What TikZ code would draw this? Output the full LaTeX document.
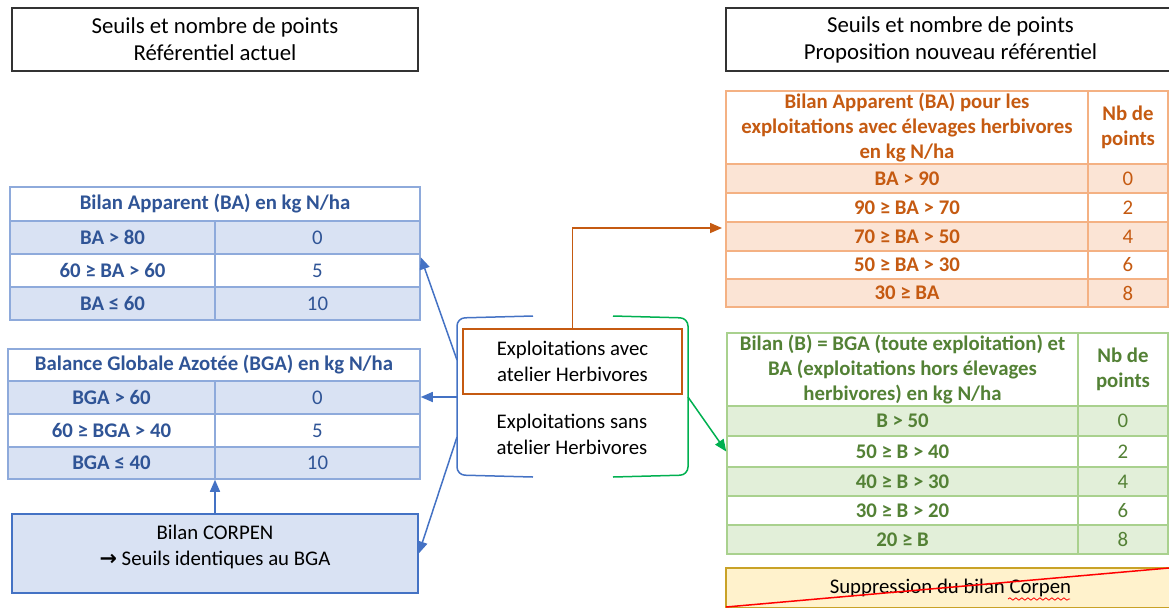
\documentclass[tikz,border=0pt]{standalone}
\usepackage{fontspec}
\setmainfont{Carlito}
\newfontfamily\symbfont{DejaVu Sans}
\usetikzlibrary{arrows.meta,decorations.pathmorphing}

\definecolor{bleutrait}{HTML}{8EAADB}
\definecolor{bleufond}{HTML}{D9E2F3}
\definecolor{bleutexte}{HTML}{2F5496}
\definecolor{bleufleche}{HTML}{4472C4}
\definecolor{orangetrait}{HTML}{F4B183}
\definecolor{orangefond}{HTML}{FBE4D5}
\definecolor{orangetexte}{HTML}{C55A11}
\definecolor{verttrait}{HTML}{A9D18E}
\definecolor{vertfond}{HTML}{E2EFD9}
\definecolor{verttexte}{HTML}{538135}
\definecolor{vertfleche}{HTML}{00B050}
\definecolor{jaunefond}{HTML}{FFF2CC}
\definecolor{jaunetrait}{HTML}{C9A227}

\tikzset{
  boite/.style n args={4}{inner sep=0pt,
    minimum width={(#3-#1)*0.5pt}, minimum height={(#4-#2)*0.5pt},
    at={({(#1+#3)/2},{(#2+#4)/2})}},
  cellule/.style={line width=0.75pt, align=center,
    font=\fontsize{10.4}{12.3}\selectfont},
  cellgras/.style={font=\fontsize{10.4}{12.3}\selectfont\bfseries},
  bleucell/.style={cellule, draw=bleutrait, text=bleutexte},
  orangecell/.style={cellule, draw=orangetrait, text=orangetexte},
  vertcell/.style={cellule, draw=verttrait, text=verttexte},
  titre/.style={draw=black!80, line width=0.6pt, align=center,
    font=\fontsize{11.4}{13.5}\selectfont},
  texte/.style={align=center, font=\fontsize{10.4}{13}\selectfont},
  fleche/.style={line width=0.75pt, -{Triangle[length=6pt,width=5pt]}},
  crochet/.style={line width=0.75pt, rounded corners=4pt},
}

\begin{document}
\begin{tikzpicture}[x=0.5pt,y=-0.5pt]
\useasboundingbox (0,0) rectangle (1169,607);
\clip (0,0) rectangle (1169,607);

% The titles
\node[titre, boite={12}{8}{418}{71}] (titreactuel)
  {Seuils et nombre de points\\Référentiel actuel};
\node[titre, boite={726}{8}{1175}{71}] (titrenouveau)
  {Seuils et nombre de points\\Proposition nouveau référentiel};

% Referentiel actuel: BA
\node[bleucell, cellgras, fill=white, boite={10}{187}{420}{221}] (baentete)
  {Bilan Apparent (BA) en kg N/ha};
\foreach \haut/\bas/\seuil/\pts/\fond [count=\i] in
  {221/254/{BA > 80}/0/bleufond, 254/287/{60 ≥ BA > 60}/5/white, 287/320/{BA ≤ 60}/10/bleufond}
{
  \node[bleucell, cellgras, fill=\fond, boite={10}{\haut}{215}{\bas}] (baseuil\i) {\seuil};
  \node[bleucell, fill=\fond, boite={215}{\haut}{420}{\bas}] (bapts\i) {\pts};
}

% Referentiel actuel: BGA
\node[bleucell, cellgras, fill=white, boite={8}{349}{420}{381}] (bgaentete)
  {Balance Globale Azotée (BGA) en kg N/ha};
\foreach \haut/\bas/\seuil/\pts/\fond [count=\i] in
  {381/414/{BGA > 60}/0/bleufond, 414/447/{60 ≥ BGA > 40}/5/white, 447/479/{BGA ≤ 40}/10/bleufond}
{
  \node[bleucell, cellgras, fill=\fond, boite={8}{\haut}{215}{\bas}] (bgaseuil\i) {\seuil};
  \node[bleucell, fill=\fond, boite={215}{\haut}{420}{\bas}] (bgapts\i) {\pts};
}

% CORPEN
\node[texte, boite={12}{514}{418}{593}, draw=bleufleche, line width=0.75pt,
  fill=bleufond, text depth=8pt] (corpen)
  {Bilan CORPEN\\{\symbfont\bfseries →} Seuils identiques au BGA};
\draw[fleche, bleufleche] (corpen.north) -- (corpen.north |- bgapts3.south);

% The two kinds of farms
\draw[crochet, bleufleche] (533,316) -- (457,318) -- (457,475) -- (533,477);
\draw[crochet, vertfleche] (613,316) -- (688,318) -- (688,475) -- (613,477);
\node[texte, boite={463}{329}{682}{394}, draw=orangetexte, line width=0.75pt] (avec)
  {Exploitations avec\\atelier Herbivores};
\node[texte] (sans) at (572,434) {Exploitations sans\\atelier Herbivores};

\coordinate (depba) at (457,360);
\coordinate (depbga) at (457,397);
\coordinate (depcorpen) at (457,437);
\coordinate (depvert) at (688,397);
\coordinate (cibleorange) at (722,228);

\draw[fleche, bleufleche] (depba) -- ([yshift=-2pt]bapts2.north east);
\draw[fleche, bleufleche] (depbga) -- (depbga -| bgapts1.east);
\draw[fleche, bleufleche] (depcorpen) -- (corpen.east);
\draw[fleche, orangetexte] (avec.north) |- (cibleorange);

% Nouveau referentiel: BA
\node[orangecell, cellgras, fill=white, boite={726}{91}{1088}{164}] (oentete)
  {Bilan Apparent (BA) pour les\\exploitations avec élevages herbivores\\en kg N/ha};
\node[orangecell, cellgras, fill=white, boite={1088}{91}{1168}{164}] (onb) {Nb de\\points};
\foreach \haut/\bas/\seuil/\pts/\fond [count=\i] in
  {164/193/{BA > 90}/0/orangefond, 193/222/{90 ≥ BA > 70}/2/white,
   222/251/{70 ≥ BA > 50}/4/orangefond, 251/279/{50 ≥ BA > 30}/6/white,
   279/307/{30 ≥ BA}/8/orangefond}
{
  \node[orangecell, cellgras, fill=\fond, boite={726}{\haut}{1088}{\bas}] (oseuil\i) {\seuil};
  \node[orangecell, fill=\fond, boite={1088}{\haut}{1168}{\bas}] (opts\i) {\pts};
}

% Nouveau referentiel: B
\node[vertcell, cellgras, fill=white, boite={727}{333}{1078}{406}] (ventete)
  {Bilan (B) = BGA (toute exploitation) et\\BA (exploitations hors élevages\\herbivores) en kg N/ha};
\node[vertcell, cellgras, fill=white, boite={1078}{333}{1168}{406}] (vnb) {Nb de\\points};
\foreach \haut/\bas/\seuil/\pts/\fond [count=\i] in
  {406/436/{B > 50}/0/vertfond, 436/467/{50 ≥ B > 40}/2/white,
   467/496/{40 ≥ B > 30}/4/vertfond, 496/525/{30 ≥ B > 20}/6/white,
   525/554/{20 ≥ B}/8/vertfond}
{
  \node[vertcell, cellgras, fill=\fond, boite={727}{\haut}{1078}{\bas}] (vseuil\i) {\seuil};
  \node[vertcell, fill=\fond, boite={1078}{\haut}{1168}{\bas}] (vpts\i) {\pts};
}
\draw[fleche, vertfleche] (depvert) -- (vseuil2.west);

% Corpen removed
\node[texte, boite={726}{568}{1175}{608}, draw=jaunetrait, line width=0.75pt,
  fill=jaunefond] (suppr) {Suppression du bilan Corpen};
\draw[red, line width=0.75pt] (726,607) -- (1169,568);
\draw[red, line width=0.4pt, decorate,
  decoration={snake, amplitude=0.6pt, segment length=3pt}] (1008,599) -- (1070,599);
\end{tikzpicture}
\end{document}
